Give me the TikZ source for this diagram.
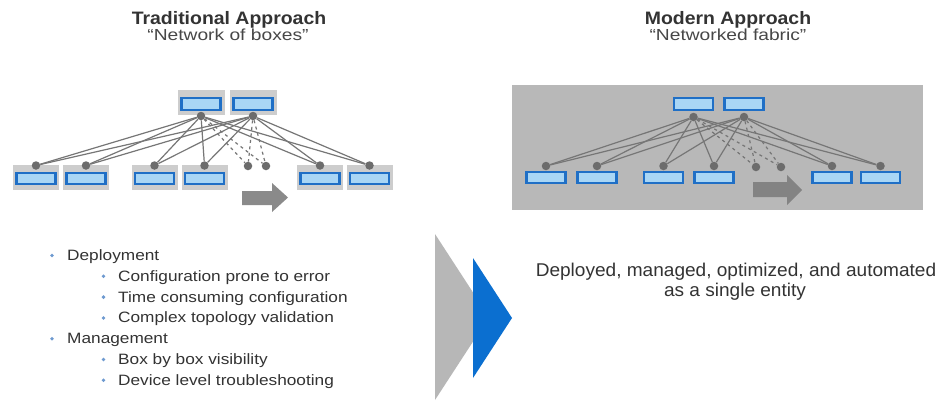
\documentclass[tikz,border=0pt]{standalone}
\usepackage{fontspec}
\setmainfont{Liberation Sans}
\usepackage{graphicx}
\definecolor{devblue}{HTML}{1F6FC6}
\definecolor{devlight}{HTML}{A9D6F5}
\definecolor{bggray}{HTML}{CDCDCD}
\definecolor{panelgray}{HTML}{B8B8B8}
\definecolor{linegray}{HTML}{767676}
\definecolor{dotgray}{HTML}{6C6C6C}
\definecolor{arrowgray}{HTML}{8A8A8A}
\definecolor{chevgray}{HTML}{B7B7B7}
\definecolor{chevblue}{HTML}{0B6FD0}
\definecolor{txt}{HTML}{333333}
\definecolor{bulblue}{HTML}{6E9AD0}
\begin{document}
\begin{tikzpicture}[x=1pt,y=-1pt,
  dev/.style={rectangle, draw=devblue, line width=2.2pt, fill=devlight, minimum width=39pt, minimum height=11.5pt, inner sep=0pt},
  bgbox/.style={rectangle, fill=bggray, minimum width=46pt, minimum height=25pt, inner sep=0pt},
  dot/.style={circle, fill=dotgray, minimum size=8.5pt, inner sep=0pt},
  link/.style={draw=linegray, line width=1.2pt},
  dlink/.style={draw=linegray, line width=1.2pt, dash pattern=on 3pt off 3.5pt},
  ttl/.style={anchor=base, inner sep=0pt, text=txt, font=\bfseries\fontsize{18}{20}\selectfont},
  sub/.style={anchor=base, inner sep=0pt, text=txt!90, font=\fontsize{16}{18}\selectfont},
  btext/.style={anchor=base west, inner sep=0pt, text=txt, font=\fontsize{15}{18}\selectfont},
  bul/.style={circle, fill=bulblue, minimum size=3.8pt, inner sep=0pt},
  rtext/.style={anchor=base, inner sep=0pt, text=txt, font=\fontsize{18.5}{22}\selectfont}
]
\useasboundingbox (0,0) rectangle (951,400);
\fill[white] (0,0) rectangle (951,400);

% ---------- titles ----------
\node[ttl] (lt) at (229,24) {\scalebox{1.08}[1]{Traditional Approach}};
\node[sub] (ls) at (228,40) {\scalebox{1.2}[1]{“Network of boxes”}};
\node[ttl] (rt) at (728,24) {\scalebox{1.08}[1]{Modern Approach}};
\node[sub] (rs) at (728,40) {\scalebox{1.2}[1]{“Networked fabric”}};

% ---------- left: network of boxes ----------
\foreach \n/\x in {1/201,2/253} {
  \node[bgbox, minimum width=47pt] (lsb\n) at (\x,102.5) {};
  \node[dev] (ls\n) at (\x,104) {};
  \node[dot] (lsd\n) at (\x,116) {};
}
\foreach \n/\x in {1/36,2/86,3/154.5,4/204.5,5/320,6/369.5} {
  \node[bgbox] (llb\n) at (\x,177.5) {};
  \node[dev] (ll\n) at (\x,178.5) {};
  \node[dot] (lld\n) at (\x,165.5) {};
}
\node[dot] (ldd1) at (248,166) {};
\node[dot] (ldd2) at (266,166) {};
\foreach \s in {1,2} {
  \foreach \l in {1,...,6} { \draw[link] (lsd\s) -- (lld\l); }
  \foreach \d in {1,2} { \draw[dlink] (lsd\s) -- (ldd\d); }
}
\fill[arrowgray] (242,191) -- (272,191) -- (272,183) -- (288,197.5) -- (272,212) -- (272,205) -- (242,205) -- cycle;

% ---------- right: networked fabric ----------
\fill[panelgray] (512,85) rectangle (923,210);
\foreach \n/\x in {1/693.5,2/744} {
  \node[dev] (rs\n) at (\x,104) {};
  \node[dot] (rsd\n) at (\x,117) {};
}
\foreach \n/\x in {1/546,2/597,3/663.5,4/714,5/832,6/880.5} {
  \node[dev] (rl\n) at (\x,177.5) {};
  \node[dot] (rld\n) at (\x,166) {};
}
\node[dot] (rdd1) at (756,167) {};
\node[dot] (rdd2) at (781,167) {};
\foreach \s in {1,2} {
  \foreach \l in {1,...,6} { \draw[link] (rsd\s) -- (rld\l); }
  \foreach \d in {1,2} { \draw[dlink] (rsd\s) -- (rdd\d); }
}
\fill[arrowgray!95!black] (753,182) -- (787,182) -- (787,175) -- (802,190) -- (787,205) -- (787,197) -- (753,197) -- cycle;

% ---------- bullets ----------
\node[bul] (b1) at (52,255.5) {};
\node[btext] (t1) at (67,260.5) {\scalebox{1.15}[1]{Deployment}};
\node[bul] (b2) at (103.5,276.3) {};
\node[btext] (t2) at (118,281.3) {\scalebox{1.15}[1]{Configuration prone to error}};
\node[bul] (b3) at (103.5,297.1) {};
\node[btext] (t3) at (118,302.1) {\scalebox{1.15}[1]{Time consuming configuration}};
\node[bul] (b4) at (103.5,317.9) {};
\node[btext] (t4) at (118,322.9) {\scalebox{1.15}[1]{Complex topology validation}};
\node[bul] (b5) at (52,338.7) {};
\node[btext] (t5) at (67,343.7) {\scalebox{1.15}[1]{Management}};
\node[bul] (b6) at (103.5,359.5) {};
\node[btext] (t6) at (118,364.5) {\scalebox{1.15}[1]{Box by box visibility}};
\node[bul] (b7) at (103.5,380.3) {};
\node[btext] (t7) at (118,385.3) {\scalebox{1.15}[1]{Device level troubleshooting}};

% ---------- chevron ----------
\fill[chevgray] (435,234) -- (489,317) -- (435,400) -- cycle;
\fill[chevblue] (473,258) -- (512,318) -- (473,378) -- cycle;

% ---------- right text ----------
\node[rtext] (r1) at (736,276) {\scalebox{1.03}[1]{Deployed, managed, optimized, and automated}};
\node[rtext] (r2) at (735,296.7) {\scalebox{1.03}[1]{as a single entity}};
\end{tikzpicture}
\end{document}
